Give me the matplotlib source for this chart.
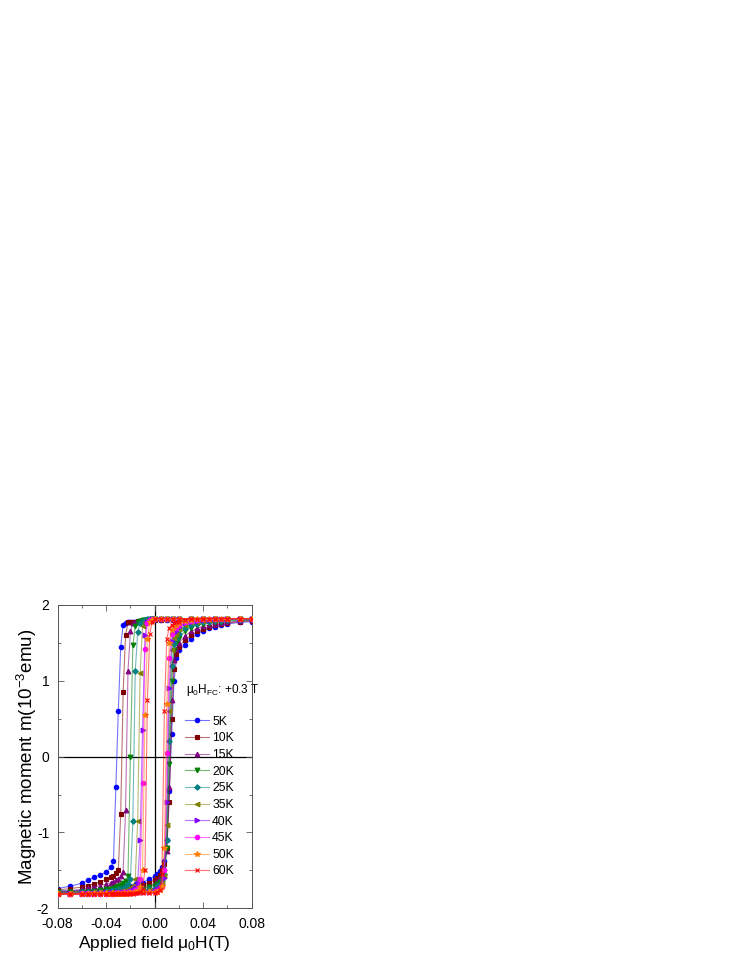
import matplotlib
matplotlib.use('Agg')
import matplotlib.pyplot as plt
from matplotlib.colors import to_rgba
from matplotlib.ticker import MultipleLocator

plt.rcParams['font.family'] = ['Liberation Sans', 'DejaVu Sans']
plt.rcParams['mathtext.fontset'] = 'custom'
plt.rcParams['mathtext.rm'] = 'Liberation Sans'
plt.rcParams['mathtext.it'] = 'Liberation Sans:italic'

# field grids (T): descending branch (+0.08 -> -0.08) and ascending branch
h_down = [0.08, 0.07, 0.06, 0.05, 0.04, 0.03, 0.02, 0.015, 0.01, 0.005, 0.0,
          -0.002, -0.004, -0.006, -0.008, -0.010, -0.012, -0.014, -0.016, -0.018,
          -0.020, -0.022, -0.024, -0.026, -0.028, -0.030, -0.032, -0.034, -0.036,
          -0.040, -0.045, -0.050, -0.055, -0.060, -0.070, -0.080]
h_up = [-0.080, -0.070, -0.060, -0.055, -0.050, -0.045, -0.040, -0.035, -0.030,
        -0.025, -0.020, -0.015, -0.010, -0.005,
        0.000, 0.002, 0.004, 0.006, 0.008, 0.010, 0.012, 0.014, 0.016,
        0.018, 0.020, 0.025, 0.030, 0.035, 0.040, 0.045, 0.050, 0.055, 0.060, 0.070, 0.080]

labels = ['5K', '10K', '15K', '20K', '25K', '35K', '40K', '45K', '50K', '60K']

# moment (10^-3 emu), descending branch
m_down_5K = [1.82, 1.82, 1.82, 1.81, 1.81, 1.81, 1.81, 1.80, 1.80, 1.80, 1.80,
             1.80, 1.80, 1.79, 1.79, 1.79, 1.79, 1.78, 1.78, 1.78, 1.77, 1.77, 1.76, 1.74,
             1.45, 0.60, -0.40, -1.38, -1.46,
             -1.52, -1.56, -1.59, -1.63, -1.67, -1.71, -1.74]
m_down_10K = [1.82, 1.82, 1.82, 1.82, 1.81, 1.81, 1.81, 1.81, 1.81, 1.80, 1.80,
              1.80, 1.80, 1.80, 1.80, 1.79, 1.79, 1.79, 1.78, 1.78, 1.78, 1.77, 1.60, 0.85,
              -0.75, -1.50, -1.54, -1.57, -1.59,
              -1.62, -1.65, -1.68, -1.70, -1.72, -1.74, -1.76]
m_down_15K = [1.82, 1.82, 1.82, 1.82, 1.82, 1.81, 1.81, 1.81, 1.81, 1.81, 1.81,
              1.81, 1.80, 1.80, 1.80, 1.80, 1.79, 1.79, 1.78, 1.76, 1.65, 1.13, -0.70, -1.52,
              -1.58, -1.61, -1.63, -1.65, -1.66,
              -1.68, -1.70, -1.72, -1.73, -1.75, -1.77, -1.78]
m_down_20K = [1.82, 1.82, 1.82, 1.82, 1.82, 1.82, 1.81, 1.81, 1.81, 1.81, 1.81,
              1.81, 1.81, 1.80, 1.80, 1.80, 1.79, 1.77, 1.72, 1.47, 0.00, -1.57, -1.64, -1.67,
              -1.69, -1.71, -1.72, -1.73, -1.74,
              -1.75, -1.76, -1.77, -1.78, -1.78, -1.79, -1.79]
m_down_25K = [1.82, 1.82, 1.82, 1.82, 1.82, 1.82, 1.81, 1.81, 1.81, 1.81, 1.81,
              1.81, 1.81, 1.81, 1.80, 1.79, 1.76, 1.64, 1.13, -0.85, -1.62, -1.68, -1.71, -1.73,
              -1.74, -1.75, -1.76, -1.76, -1.77,
              -1.77, -1.78, -1.78, -1.79, -1.79, -1.80, -1.80]
m_down_35K = [1.82, 1.82, 1.82, 1.82, 1.82, 1.82, 1.82, 1.81, 1.81, 1.81, 1.81,
              1.81, 1.81, 1.80, 1.78, 1.72, 1.10, -0.85, -1.62, -1.70, -1.73, -1.75, -1.76, -1.77,
              -1.77, -1.78, -1.78, -1.78, -1.79,
              -1.79, -1.79, -1.80, -1.80, -1.80, -1.80, -1.81]
m_down_40K = [1.82, 1.82, 1.82, 1.82, 1.82, 1.82, 1.82, 1.82, 1.81, 1.81, 1.81,
              1.81, 1.80, 1.78, 1.60, 0.35, -1.10, -1.66, -1.73, -1.76, -1.77, -1.78, -1.78, -1.79,
              -1.79, -1.79, -1.80, -1.80, -1.80,
              -1.80, -1.80, -1.81, -1.81, -1.81, -1.81, -1.81]
m_down_45K = [1.82, 1.82, 1.82, 1.82, 1.82, 1.82, 1.82, 1.82, 1.82, 1.81, 1.81,
              1.81, 1.80, 1.76, 1.42, -0.35, -1.62, -1.73, -1.76, -1.78, -1.79, -1.79, -1.80, -1.80,
              -1.80, -1.80, -1.80, -1.81, -1.81,
              -1.81, -1.81, -1.81, -1.81, -1.81, -1.81, -1.81]
m_down_50K = [1.82, 1.82, 1.82, 1.82, 1.82, 1.82, 1.82, 1.82, 1.82, 1.82, 1.81,
              1.80, 1.77, 1.55, 0.55, -1.50, -1.72, -1.77, -1.79, -1.80, -1.80, -1.80, -1.81, -1.81,
              -1.81, -1.81, -1.81, -1.81, -1.81,
              -1.81, -1.81, -1.81, -1.81, -1.81, -1.81, -1.81]
m_down_60K = [1.82, 1.82, 1.82, 1.82, 1.82, 1.82, 1.82, 1.82, 1.82, 1.82, 1.82,
              1.78, 1.62, 0.75, -1.50, -1.74, -1.78, -1.80, -1.80, -1.81, -1.81, -1.81, -1.81, -1.81,
              -1.81, -1.81, -1.81, -1.81, -1.81,
              -1.81, -1.81, -1.81, -1.81, -1.81, -1.81, -1.81]

# moment (10^-3 emu), ascending branch
m_up_5K = [-1.77, -1.77, -1.76, -1.76, -1.75, -1.75, -1.74, -1.73, -1.72, -1.71, -1.70, -1.68, -1.66, -1.62,
           -1.58, -1.55, -1.51, -1.46, -1.38, -1.10, -0.45, 0.30, 1.00,
           1.30, 1.40, 1.47, 1.55, 1.62, 1.66, 1.69, 1.71, 1.73, 1.75, 1.77, 1.78]
m_up_10K = [-1.78, -1.78, -1.77, -1.77, -1.76, -1.76, -1.75, -1.75, -1.74, -1.73, -1.72, -1.71, -1.69, -1.66,
            -1.63, -1.60, -1.56, -1.50, -1.42, -1.20, -0.60, 0.50, 1.15,
            1.35, 1.45, 1.54, 1.60, 1.65, 1.68, 1.71, 1.73, 1.75, 1.76, 1.78, 1.79]
m_up_15K = [-1.79, -1.79, -1.78, -1.78, -1.78, -1.77, -1.77, -1.76, -1.76, -1.75, -1.74, -1.73, -1.72, -1.70,
            -1.67, -1.64, -1.60, -1.55, -1.47, -1.25, -0.40, 0.75, 1.28,
            1.42, 1.50, 1.59, 1.65, 1.69, 1.72, 1.74, 1.75, 1.76, 1.77, 1.79, 1.80]
m_up_20K = [-1.79, -1.79, -1.79, -1.79, -1.78, -1.78, -1.78, -1.77, -1.77, -1.77, -1.76, -1.75, -1.74, -1.72,
            -1.70, -1.68, -1.65, -1.60, -1.52, -1.20, -0.10, 1.00, 1.40,
            1.50, 1.57, 1.65, 1.70, 1.73, 1.75, 1.76, 1.77, 1.78, 1.79, 1.80, 1.80]
m_up_25K = [-1.80, -1.80, -1.79, -1.79, -1.79, -1.79, -1.78, -1.78, -1.78, -1.77, -1.77, -1.76, -1.76, -1.75,
            -1.73, -1.71, -1.68, -1.63, -1.55, -1.10, 0.20, 1.20, 1.48,
            1.55, 1.62, 1.69, 1.73, 1.75, 1.77, 1.78, 1.79, 1.79, 1.80, 1.80, 1.81]
m_up_35K = [-1.80, -1.80, -1.80, -1.80, -1.79, -1.79, -1.79, -1.79, -1.78, -1.78, -1.78, -1.78, -1.77, -1.76,
            -1.75, -1.73, -1.71, -1.67, -1.58, -0.90, 0.60, 1.40, 1.57,
            1.62, 1.68, 1.74, 1.77, 1.78, 1.79, 1.80, 1.80, 1.81, 1.81, 1.81, 1.81]
m_up_40K = [-1.80, -1.80, -1.80, -1.80, -1.80, -1.80, -1.79, -1.79, -1.79, -1.79, -1.79, -1.78, -1.78, -1.78,
            -1.77, -1.75, -1.73, -1.69, -1.60, -0.60, 0.90, 1.52, 1.63,
            1.66, 1.71, 1.76, 1.78, 1.79, 1.80, 1.80, 1.81, 1.81, 1.81, 1.82, 1.82]
m_up_45K = [-1.81, -1.81, -1.80, -1.80, -1.80, -1.80, -1.80, -1.80, -1.80, -1.79, -1.79, -1.79, -1.79, -1.78,
            -1.78, -1.77, -1.75, -1.72, -1.50, 0.05, 1.30, 1.62, 1.69,
            1.70, 1.74, 1.78, 1.79, 1.80, 1.81, 1.81, 1.81, 1.82, 1.82, 1.82, 1.82]
m_up_50K = [-1.81, -1.81, -1.81, -1.81, -1.80, -1.80, -1.80, -1.80, -1.80, -1.80, -1.80, -1.79, -1.79, -1.79,
            -1.79, -1.78, -1.76, -1.70, -1.20, 0.70, 1.50, 1.67, 1.72,
            1.73, 1.76, 1.79, 1.80, 1.81, 1.81, 1.82, 1.82, 1.82, 1.82, 1.82, 1.82]
m_up_60K = [-1.81, -1.81, -1.81, -1.81, -1.81, -1.81, -1.81, -1.80, -1.80, -1.80, -1.80, -1.80, -1.80, -1.80,
            -1.80, -1.79, -1.76, -1.55, 0.60, 1.55, 1.70, 1.74, 1.76,
            1.77, 1.78, 1.80, 1.81, 1.81, 1.82, 1.82, 1.82, 1.82, 1.82, 1.82, 1.82]

m_down = [m_down_5K, m_down_10K, m_down_15K, m_down_20K, m_down_25K,
          m_down_35K, m_down_40K, m_down_45K, m_down_50K, m_down_60K]
m_up = [m_up_5K, m_up_10K, m_up_15K, m_up_20K, m_up_25K,
        m_up_35K, m_up_40K, m_up_45K, m_up_50K, m_up_60K]

colors = ['#0000ff', '#800000', '#800080', '#008000', '#008080',
          '#808000', '#8000ff', '#ff00ff', '#ff8000', '#ff0000']
markers = ['o', 's', '^', 'v', 'D', '<', '>', 'o', '*', 'x']
msizes = [3.2, 3.0, 3.4, 3.4, 2.8, 3.4, 3.4, 3.2, 4.2, 3.4]

fig = plt.figure(figsize=(7.47, 9.67), dpi=100)
ax = fig.add_axes([0.0772, 0.0607, 0.2597, 0.3137])

ax.axhline(0, color='black', lw=0.9, zorder=1)
ax.axvline(0, color='black', lw=0.9, zorder=1)

for i in range(len(labels)):
    c = colors[i]
    line_c = to_rgba(c, 0.55)
    h = h_down + h_up
    m = m_down[i] + m_up[i]
    ax.plot(h, m, color=line_c, lw=0.8, marker=markers[i], ms=msizes[i],
            mfc=c, mec=c, mew=0.8, label=labels[i], zorder=2 + i)

ax.set_xlim(-0.08, 0.08)
ax.set_ylim(-2, 2)
ax.xaxis.set_minor_locator(MultipleLocator(0.02))
ax.yaxis.set_minor_locator(MultipleLocator(0.5))
ax.set_xticks([-0.08, -0.04, 0.0, 0.04, 0.08])
ax.set_xticklabels(['-0.08', '-0.04', '0.00', '0.04', '0.08'])
ax.set_yticks([-2, -1, 0, 1, 2])
ax.set_yticklabels(['-2', '-1', '0', '1', '2'])
ax.tick_params(which='both', direction='in', top=True, right=True,
               labelsize=10, width=0.6, color='#555555')
ax.tick_params(axis='x', pad=6)
ax.tick_params(axis='y', pad=6)
ax.tick_params(which='major', length=4)
ax.tick_params(which='minor', length=2.5)
for s in ax.spines.values():
    s.set_linewidth(0.7)
    s.set_color('#555555')

ax.set_xlabel('Applied field \u03bc$_0$H(T)', fontsize=12.5)
ax.set_ylabel('Magnetic moment m(10$^{-3}$emu)', fontsize=13.5)
ax.xaxis.set_label_coords(0.5, -0.085)
ax.yaxis.set_label_coords(-0.098, 0.5)

ax.text(0.66, 0.72, '\u03bc$_0$H$_{\\mathrm{FC}}$: +0.3 T', transform=ax.transAxes,
        fontsize=8.5, ha='left', va='center')
leg = ax.legend(loc='upper left', bbox_to_anchor=(0.655, 0.635), frameon=False,
                fontsize=8.8, handlelength=2.0, handletextpad=0.25,
                labelspacing=0.38, borderpad=0, borderaxespad=0, numpoints=1)

fig.savefig('out.png', dpi=100)
